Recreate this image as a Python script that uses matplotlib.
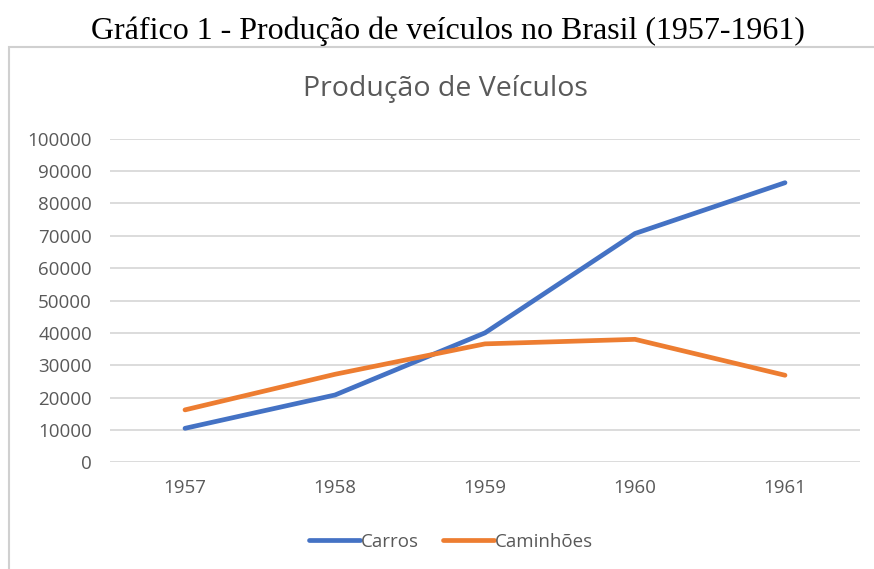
import matplotlib.pyplot as plt
from matplotlib.patches import Rectangle

# data
anos = ['1957', '1958', '1959', '1960', '1961']
carros = [10500, 20800, 40000, 70700, 86400]
caminhoes = [16200, 27200, 36600, 38000, 26900]
yticks = list(range(0, 100001, 10000))

cinza = '#595959'
plt.rcParams['font.family'] = ['Open Sans', 'DejaVu Sans']

fig = plt.figure(figsize=(8.74, 5.69), dpi=100)

# outer chart frame
fig.patches.append(Rectangle((9 / 874, -0.01), 1.0, 1 - 47 / 569 + 0.01,
                             transform=fig.transFigure, fill=False,
                             edgecolor='#d0d0d0', linewidth=1.5))

fig.text(0.513, 1 - 31 / 569, 'Gráfico 1 - Produção de veículos no Brasil (1957-1961)',
         ha='center', va='center', family='Liberation Serif', fontsize=23, color='black')
fig.text(0.51, 1 - 89 / 569, 'Produção de Veículos', ha='center', va='center',
         fontsize=20.5, color=cinza)

ax = fig.add_axes([110 / 874, 1 - 462.3 / 569, 750 / 874, (462.3 - 138.7) / 569])
x = range(len(anos))
ax.plot(x, carros, color='#4472C4', linewidth=3.4, solid_capstyle='round', label='Carros')
ax.plot(x, caminhoes, color='#ED7D31', linewidth=3.4, solid_capstyle='round', label='Caminhões')

ax.set_xlim(-0.5, len(anos) - 0.5)
ax.set_ylim(0, 100000)
ax.set_xticks(list(x))
ax.set_xticklabels(anos)
ax.set_yticks(yticks)
ax.set_yticklabels([str(v) for v in yticks])
ax.tick_params(length=0, labelsize=13.5, colors=cinza)
ax.tick_params(axis='y', pad=13)
ax.tick_params(axis='x', pad=12)
ax.grid(axis='y', color='#d9d9d9', linewidth=1.3)
ax.set_axisbelow(True)
for s in ax.spines.values():
    s.set_visible(False)

leg = ax.legend(loc='center', bbox_to_anchor=(0.455, -0.245), ncol=2, frameon=False,
                fontsize=13.5, handlelength=2.7, handletextpad=0.05, columnspacing=1.3)
for t in leg.get_texts():
    t.set_color(cinza)

fig.savefig('out.png', dpi=100)
